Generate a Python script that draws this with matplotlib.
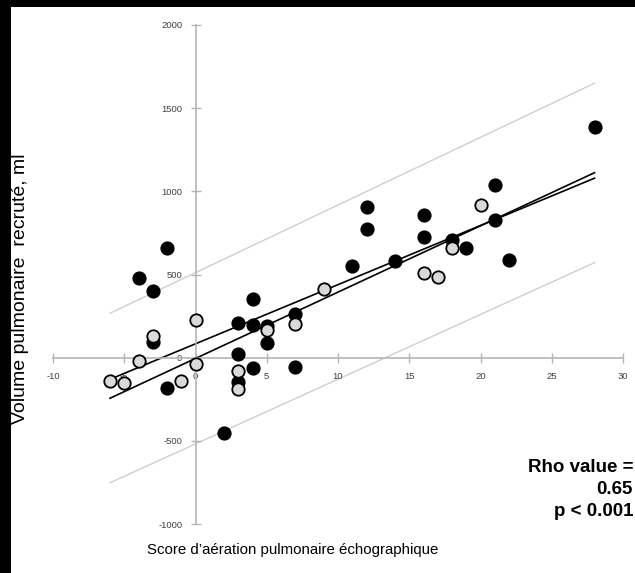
import matplotlib.pyplot as plt
from matplotlib.patches import Rectangle

# score d'aération (x) / volume recruté en ml (y)
filled_x = [-4, -3, -3, -2, -2, 2, 3, 3, 3, 4, 4, 4, 5, 5, 7, 7, 11, 12, 12, 14, 16, 16, 18, 19, 21, 21, 22, 28]
filled_y = [480, 400, 95, 660, -180, -450, 210, 25, -145, 350, 195, -60, 90, 190, 265, -55, 550, 905, 775, 580, 855, 725, 705, 660, 1040, 825, 590, 1385]
open_x = [-6, -5, -4, -3, -1, 0, 0, 3, 3, 5, 7, 9, 16, 17, 18, 20]
open_y = [-140, -155, -20, 130, -140, 225, -40, -80, -190, 165, 200, 415, 510, 487, 660, 920]

# droites de régression et bornes (extrémités)
line_x = [-6, 28]
reg1_y = [-130, 1079]
reg2_y = [-244, 1112]
upper_y = [267, 1650]
lower_y = [-752, 571]

x_ticks = [-10, -5, 0, 5, 10, 15, 20, 25, 30]
y_ticks = [-1000, -500, 0, 500, 1000, 1500, 2000]
stats_lines = ["Rho value =", "0.65", "p < 0.001"]

plt.rcParams['font.family'] = ['Liberation Sans', 'DejaVu Sans']
plt.rcParams['axes.unicode_minus'] = False

fig = plt.figure(figsize=(6.35, 5.73), dpi=100)
fig.patch.set_facecolor('black')
fig.add_artist(Rectangle((11/635, 0), 1, 1 - 7/573, transform=fig.transFigure,
                         facecolor='white', edgecolor='none', zorder=0))

ax = fig.add_axes([53/635, 1 - 524/573, 570/635, 499/573])
ax.set_facecolor('none')
ax.set_xlim(-10, 30)
ax.set_ylim(-1000, 2000)

for s in ['top', 'right']:
    ax.spines[s].set_visible(False)
for s in ['left', 'bottom']:
    ax.spines[s].set_position(('data', 0))
    ax.spines[s].set_color('#b5b5b5')
    ax.spines[s].set_linewidth(1.2)

ax.set_xticks(x_ticks)
ax.set_yticks(y_ticks)
ax.tick_params(direction='inout', length=7, width=1, color='#b5b5b5',
               labelsize=6.8, labelcolor='#404040')
ax.tick_params(axis='x', pad=7)
ax.tick_params(axis='y', pad=6)

ax.plot(line_x, upper_y, color='#cfcfcf', lw=1, zorder=1)
ax.plot(line_x, lower_y, color='#cfcfcf', lw=1, zorder=1)
ax.plot(line_x, reg1_y, color='black', lw=1.2, zorder=2)
ax.plot(line_x, reg2_y, color='black', lw=1.2, zorder=2)

ax.scatter(filled_x, filled_y, s=85, color='black', zorder=3)
ax.scatter(open_x, open_y, s=80, facecolor='#d9d9d9', edgecolor='black', linewidth=1.3, zorder=4)

fig.text(293/635, 1 - 550/573, "Score d\u2019aération pulmonaire échographique",
         ha='center', va='center', fontsize=10.8)
fig.text(21/635, 1 - 289/573, "Volume pulmonaire  recruté, ml", rotation=90,
         ha='center', va='center', fontsize=14)
for i, t in enumerate(stats_lines):
    fig.text(633/635, 1 - (467 + 22*i)/573, t, ha='right', va='center',
             fontsize=13.5, fontweight='bold')

fig.savefig('out.png', dpi=100, facecolor=fig.get_facecolor())
